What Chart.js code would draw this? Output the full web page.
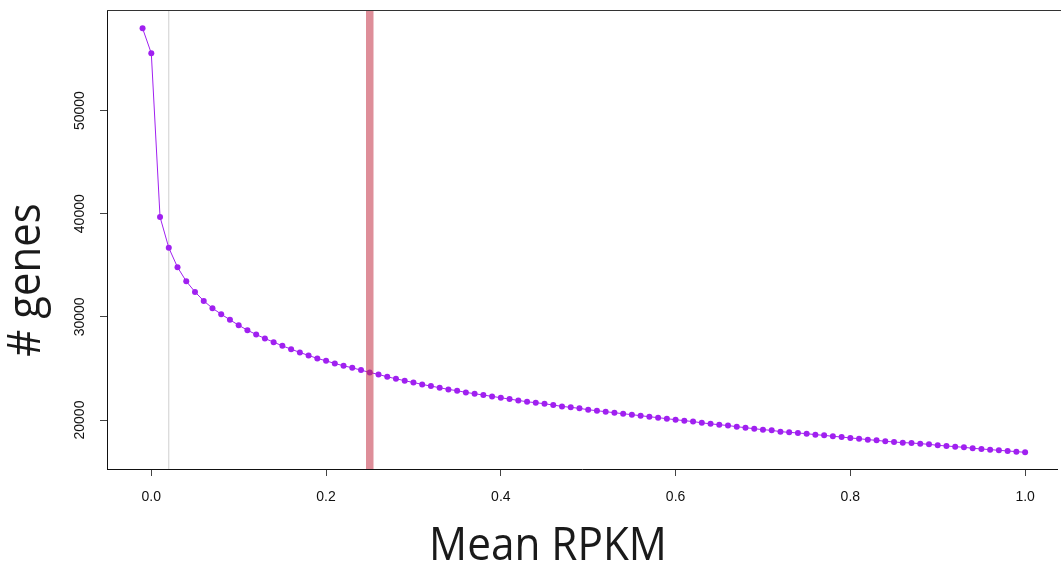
<!DOCTYPE html>
<html>
<head>
<meta charset="utf-8">
<script src="https://cdn.jsdelivr.net/npm/chart.js@4/dist/chart.umd.min.js"></script>
<style>
  html, body { margin: 0; padding: 0; background: #fff; overflow: hidden; }
  #wrap { width: 1061px; height: 566px; }
</style>
</head>
<body>
<div id="wrap"><canvas id="c" width="1061" height="566"></canvas></div>
<script>
// ---- data ----
const meanRPKM = [
  -0.01, 0.00, 0.01, 0.02, 0.03, 0.04, 0.05, 0.06, 0.07, 0.08, 0.09,
  0.10, 0.11, 0.12, 0.13, 0.14, 0.15, 0.16, 0.17, 0.18, 0.19,
  0.20, 0.21, 0.22, 0.23, 0.24, 0.25, 0.26, 0.27, 0.28, 0.29,
  0.30, 0.31, 0.32, 0.33, 0.34, 0.35, 0.36, 0.37, 0.38, 0.39,
  0.40, 0.41, 0.42, 0.43, 0.44, 0.45, 0.46, 0.47, 0.48, 0.49,
  0.50, 0.51, 0.52, 0.53, 0.54, 0.55, 0.56, 0.57, 0.58, 0.59,
  0.60, 0.61, 0.62, 0.63, 0.64, 0.65, 0.66, 0.67, 0.68, 0.69,
  0.70, 0.71, 0.72, 0.73, 0.74, 0.75, 0.76, 0.77, 0.78, 0.79,
  0.80, 0.81, 0.82, 0.83, 0.84, 0.85, 0.86, 0.87, 0.88, 0.89,
  0.90, 0.91, 0.92, 0.93, 0.94, 0.95, 0.96, 0.97, 0.98, 0.99,
  1.00
];
const nGenes = [
  57970, 55550, 39680, 36700, 34810, 33450, 32420, 31550, 30840, 30260, 29710,
  29190, 28710, 28290, 27900, 27550, 27190, 26870, 26550, 26260, 25970,
  25740, 25480, 25260, 25060, 24840, 24610, 24420, 24190, 24000, 23810,
  23640, 23450, 23290, 23130, 22970, 22840, 22680, 22550, 22420, 22290,
  22160, 22030, 21900, 21770, 21680, 21580, 21450, 21320, 21230, 21130,
  21000, 20900, 20810, 20710, 20610, 20520, 20420, 20320, 20230, 20130,
  20030, 19940, 19850, 19730, 19630, 19545, 19465, 19355, 19258, 19161,
  19064, 19000, 18871, 18807, 18742, 18677, 18581, 18516, 18419, 18355,
  18258, 18193, 18097, 18032, 17936, 17871, 17806, 17774, 17710, 17645,
  17548, 17484, 17419, 17355, 17258, 17194, 17129, 17064, 17000, 16935,
  16871
];
const xTicks = [0.0, 0.2, 0.4, 0.6, 0.8, 1.0];
const yTicks = [20000, 30000, 40000, 50000];
const xRange = [-0.0507, 1.0365];
const yRange = [15252, 59748];
const grayLineX = 0.02;
const redLineX = 0.25;
const xTitle = 'Mean RPKM';
const yTitle = '# genes';

// ---- build ----
const points = meanRPKM.map((x, i) => ({ x: x, y: nGenes[i] }));
const vline = (x) => [{ x: x, y: yRange[0] }, { x: x, y: yRange[1] }];

const PURPLE = '#a020f0';
const tickFont = { family: '"Liberation Sans", Arial, sans-serif', size: 14 };

const framePlugin = {
  id: 'frame',
  afterDraw(chart) {
    const { ctx, chartArea: a } = chart;
    ctx.save();
    ctx.strokeStyle = '#333';
    ctx.lineWidth = 1;
    ctx.beginPath();
    ctx.moveTo(a.left, Math.round(a.top) + 0.5);
    ctx.lineTo(chart.width, Math.round(a.top) + 0.5);
    ctx.stroke();
    // axis titles
    ctx.fillStyle = '#1a1a1a';
    ctx.font = '46px "Open Sans", "Noto Sans", sans-serif';
    ctx.textAlign = 'center';
    ctx.textBaseline = 'alphabetic';
    ctx.save();
    ctx.translate(548, 560);
    ctx.scale(0.92, 1);
    ctx.fillText(xTitle, 0, 0);
    ctx.restore();
    ctx.translate(40, 280);
    ctx.rotate(-Math.PI / 2);
    ctx.scale(0.91, 1);
    ctx.fillText(yTitle, 0, 0);
    ctx.restore();
  }
};

new Chart(document.getElementById('c'), {
  type: 'line',
  data: {
    datasets: [
      {
        label: 'red',
        data: vline(redLineX),
        borderColor: 'rgba(195,50,70,0.55)',
        borderWidth: 7.5,
        pointRadius: 0,
        order: 0,
        borderCapStyle: 'butt'
      },
      {
        label: 'genes',
        data: points,
        borderColor: PURPLE,
        borderWidth: 1,
        backgroundColor: PURPLE,
        pointBackgroundColor: PURPLE,
        pointBorderWidth: 0,
        pointRadius: 3,
        tension: 0,
        order: 1
      },
      {
        label: 'gray',
        data: vline(grayLineX),
        borderColor: '#cfcfcf',
        borderWidth: 1,
        pointRadius: 0,
        order: 2
      }
    ]
  },
  options: {
    responsive: false,
    devicePixelRatio: 1,
    animation: false,
    layout: { padding: { top: 10, right: 0, bottom: 0, left: 0 } },
    plugins: { legend: { display: false }, tooltip: { enabled: false } },
    scales: {
      x: {
        type: 'linear',
        min: xRange[0],
        max: xRange[1],
        afterBuildTicks: (s) => { s.ticks = xTicks.map(v => ({ value: v })); },
        afterFit: (s) => { s.height = 97; },
        ticks: {
          color: '#111',
          font: tickFont,
          padding: 13,
          maxRotation: 0,
          autoSkip: false,
          callback: (v) => Number(v).toFixed(1)
        },
        grid: { drawOnChartArea: false, drawTicks: true, tickLength: 7, tickColor: '#444', tickWidth: 1 },
        border: { display: true, color: '#111', width: 1 }
      },
      y: {
        type: 'linear',
        min: yRange[0],
        max: yRange[1],
        afterBuildTicks: (s) => { s.ticks = yTicks.map(v => ({ value: v })); },
        afterFit: (s) => { s.width = 107; },
        ticks: {
          color: '#111',
          font: tickFont,
          padding: 0,
          minRotation: 90,
          maxRotation: 90,
          crossAlign: 'center',
          autoSkip: false,
          callback: (v) => String(v)
        },
        grid: { drawOnChartArea: false, drawTicks: true, tickLength: 7, tickColor: '#444', tickWidth: 1 },
        border: { display: true, color: '#111', width: 1 }
      }
    }
  },
  plugins: [framePlugin]
});
</script>
</body>
</html>
